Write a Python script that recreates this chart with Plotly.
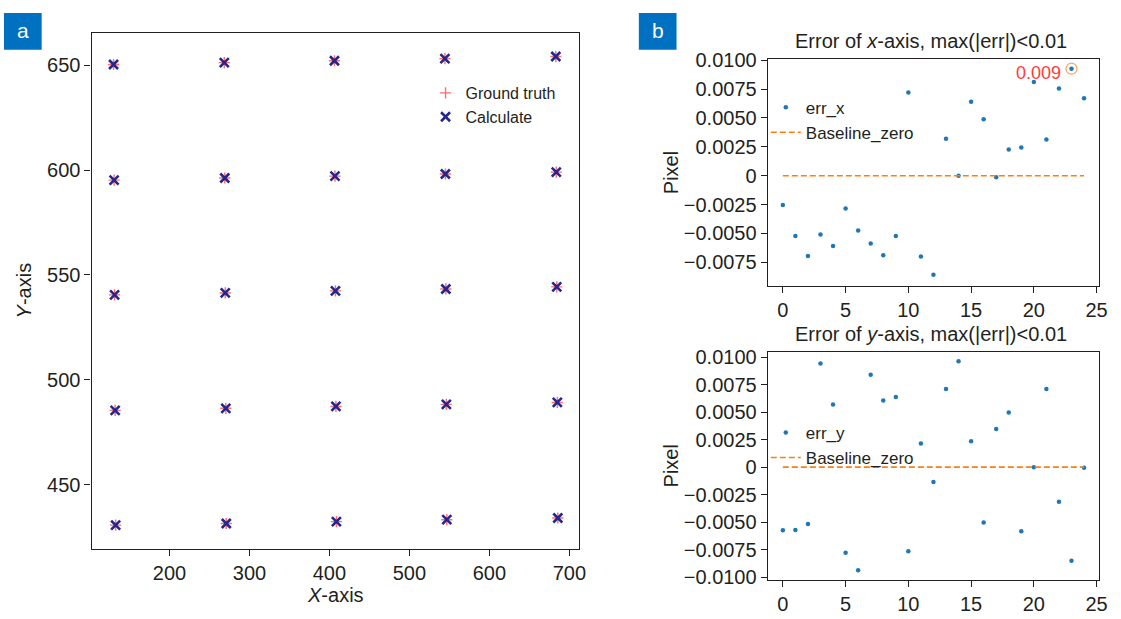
import plotly.graph_objects as go

# ---------------- data ----------------
# Panel a: grid points (ground truth and calculated positions)
gt_x = [130.0, 268.5, 406.3, 544.4, 683.1,
        130.7, 269.1, 406.9, 545.0, 683.7,
        131.3, 269.7, 407.5, 545.6, 684.3,
        132.0, 270.4, 408.1, 546.2, 685.0,
        132.6, 271.0, 408.7, 546.8, 685.6]
gt_y = [650.3, 651.2, 652.1, 653.1, 654.1,
        595.2, 596.2, 597.1, 598.1, 599.0,
        540.5, 541.4, 542.4, 543.3, 544.3,
        485.4, 486.4, 487.3, 488.3, 489.2,
        430.7, 431.5, 432.4, 433.3, 434.1]
calc_x = [130.0, 268.5, 406.3, 544.4, 683.1,
          130.7, 269.1, 406.9, 545.0, 683.7,
          131.3, 269.7, 407.5, 545.6, 684.3,
          132.0, 270.4, 408.1, 546.2, 685.0,
          132.6, 271.0, 408.7, 546.8, 685.6]
calc_y = [650.3, 651.2, 652.1, 653.1, 654.1,
          595.2, 596.2, 597.1, 598.1, 599.0,
          540.5, 541.4, 542.4, 543.3, 544.3,
          485.4, 486.4, 487.3, 488.3, 489.2,
          430.7, 431.5, 432.4, 433.3, 434.1]
a_xticks = [200, 300, 400, 500, 600, 700]
a_yticks = [450, 500, 550, 600, 650]

# Panel b: errors per point index
idx = list(range(25))
err_x = [-0.00253, -0.00522, -0.00694, -0.00508, -0.00608, -0.00283, -0.00475,
         -0.00586, -0.00689, -0.00522, 0.00721, -0.00700, -0.00858, 0.00319,
         0.00000, 0.00640, 0.00489, -0.00014, 0.00227, 0.00243, 0.00811,
         0.00313, 0.00755, 0.00926, 0.00671]
err_y = [-0.00574, -0.00571, -0.00518, 0.00944, 0.00571, -0.00780, -0.00938,
         0.00841, 0.00606, 0.00638, -0.00765, 0.00215, -0.00134, 0.00712,
         0.00965, 0.00235, -0.00503, 0.00347, 0.00497, -0.00583, 0.00000,
         0.00712, -0.00315, -0.00851, -0.00006]
baseline_x = [0, 24]
baseline_y = [0, 0]
max_idx = 23
max_label = "0.009"
b_xticks = [0, 5, 10, 15, 20, 25]
b1_yticks = [0.01, 0.0075, 0.005, 0.0025, 0, -0.0025, -0.005, -0.0075]
b1_yticktext = ["0.0100", "0.0075", "0.0050", "0.0025", "0",
                "\u22120.0025", "\u22120.0050", "\u22120.0075"]
b2_yticks = [0.01, 0.0075, 0.005, 0.0025, 0, -0.0025, -0.005, -0.0075, -0.01]
b2_yticktext = ["0.0100", "0.0075", "0.0050", "0.0025", "0",
                "\u22120.0025", "\u22120.0050", "\u22120.0075", "\u22120.0100"]

# ---------------- styling ----------------
W, H = 1121, 619
FONT = "Liberation Sans, Arial, Helvetica, sans-serif"
INK = "#231f20"
BLUE = "#1f77b4"
ORANGE = "#ff7f0e"


def px(x):
    return x / W


def py(y):
    return 1 - y / H


axis_common = dict(showline=True, linecolor=INK, linewidth=1.3, mirror=True,
                   ticks="outside", ticklen=6, tickwidth=1.2, tickcolor=INK,
                   showgrid=False, zeroline=False,
                   tickfont=dict(size=20, color=INK, family=FONT))

fig = go.Figure()

# Panel a
fig.add_trace(go.Scatter(
    x=gt_x, y=gt_y, mode="markers", name="Ground truth",
    marker=dict(symbol="cross-thin", size=8, line=dict(width=1.4, color="rgba(255,60,60,0.75)"),
                color="rgba(255,60,60,0.75)"),
    xaxis="x", yaxis="y", legend="legend"))
fig.add_trace(go.Scatter(
    x=calc_x, y=calc_y, mode="markers", name="Calculate",
    marker=dict(symbol="x-thin", size=9, line=dict(width=2.6, color="#26268f"),
                color="#26268f"),
    xaxis="x", yaxis="y", legend="legend"))

# Panel b top
fig.add_trace(go.Scatter(
    x=idx, y=err_x, mode="markers", name="err_x",
    marker=dict(size=4.5, color=BLUE), xaxis="x2", yaxis="y2", legend="legend2"))
fig.add_trace(go.Scatter(
    x=baseline_x, y=baseline_y, mode="lines", name="Baseline_zero",
    line=dict(color=ORANGE, width=1.6, dash="6px,3px"),
    xaxis="x2", yaxis="y2", legend="legend2"))
fig.add_trace(go.Scatter(
    x=[idx[max_idx]], y=[err_x[max_idx]], mode="markers", showlegend=False,
    marker=dict(symbol="circle-open", size=11, line=dict(width=1.2, color="#ff3b3b")),
    xaxis="x2", yaxis="y2", hoverinfo="skip"))

# Panel b bottom
fig.add_trace(go.Scatter(
    x=idx, y=err_y, mode="markers", name="err_y",
    marker=dict(size=4.5, color=BLUE), xaxis="x3", yaxis="y3", legend="legend3"))
fig.add_trace(go.Scatter(
    x=baseline_x, y=baseline_y, mode="lines", name="Baseline_zero",
    line=dict(color=ORANGE, width=1.6, dash="6px,3px"),
    xaxis="x3", yaxis="y3", legend="legend3"))

legend_common = dict(bgcolor="rgba(0,0,0,0)", borderwidth=0, xanchor="left",
                     yanchor="top", tracegroupgap=0, itemwidth=30)

fig.update_layout(
    width=W, height=H, margin=dict(l=0, r=0, t=0, b=0),
    paper_bgcolor="white", plot_bgcolor="white",
    font=dict(family=FONT, color=INK, size=20),
    xaxis=dict(domain=[px(92.3), px(584)], range=[102.5, 712.5],
               tickvals=a_xticks, anchor="y", **axis_common),
    yaxis=dict(domain=[py(555), py(23.3)], range=[419.4, 665.5],
               tickvals=a_yticks, anchor="x", **axis_common),
    xaxis2=dict(domain=[px(774), px(1108)], range=[-1.2, 25.2],
                tickvals=b_xticks, anchor="y2", **axis_common),
    yaxis2=dict(domain=[py(284.3), py(50.7)], range=[-0.00955, 0.01008],
                tickvals=b1_yticks, ticktext=b1_yticktext, anchor="x2", **axis_common),
    xaxis3=dict(domain=[px(774), px(1108)], range=[-1.2, 25.2],
                tickvals=b_xticks, anchor="y3", **axis_common),
    yaxis3=dict(domain=[py(586.7), py(352.3)], range=[-0.01024, 0.01048],
                tickvals=b2_yticks, ticktext=b2_yticktext, anchor="x3", **axis_common),
    legend=dict(x=px(429), y=py(68), font=dict(size=16, color=INK, family=FONT),
                **legend_common),
    legend2=dict(x=px(772), y=py(82), font=dict(size=17, color=INK, family=FONT),
                 **legend_common),
    legend3=dict(x=px(772), y=py(417), font=dict(size=17, color=INK, family=FONT),
                 **legend_common),
    showlegend=True,
)

# Panel labels (blue squares)
for x0, label in [(4, "a"), (644, "b")]:
    fig.add_shape(type="rect", xref="paper", yref="paper",
                  x0=px(x0), x1=px(x0 + 38), y0=py(41), y1=py(3),
                  fillcolor="#0070c0", line=dict(width=0), layer="above")
    fig.add_annotation(xref="paper", yref="paper", x=px(x0 + 19), y=py(21),
                       text=label, showarrow=False, xanchor="center", yanchor="middle",
                       font=dict(size=21, color="white", family=FONT))

# Axis titles and panel titles
ann = [
    dict(x=px(338.5), y=py(603), text="<i>X</i>-axis", textangle=0),
    dict(x=px(24), y=py(289), text="<i>Y</i>-axis", textangle=-90),
    dict(x=px(938.5), y=py(31.5), text="Error of <i>x</i>-axis, max(|err|)&lt;0.01", textangle=0),
    dict(x=px(938.5), y=py(333.3), text="Error of <i>y</i>-axis, max(|err|)&lt;0.01", textangle=0),
    dict(x=px(676), y=py(167.5), text="Pixel", textangle=-90),
    dict(x=px(676), y=py(469.5), text="Pixel", textangle=-90),
]
for a in ann:
    fig.add_annotation(xref="paper", yref="paper", showarrow=False,
                       xanchor="center", yanchor="middle",
                       font=dict(size=20, color=INK, family=FONT), **a)

# Max error label
fig.add_annotation(x=idx[max_idx], y=err_x[max_idx], xref="x2", yref="y2",
                   text=max_label, showarrow=False, xanchor="right", yanchor="middle",
                   xshift=-8, yshift=-4,
                   font=dict(size=18, color="#ff3b3b", family=FONT))

fig.write_html(
    "out.html",
    config={"displayModeBar": False},
    post_script="document.body.style.margin='0';document.body.style.padding='0';"
                "document.documentElement.style.overflow='hidden';",
)
